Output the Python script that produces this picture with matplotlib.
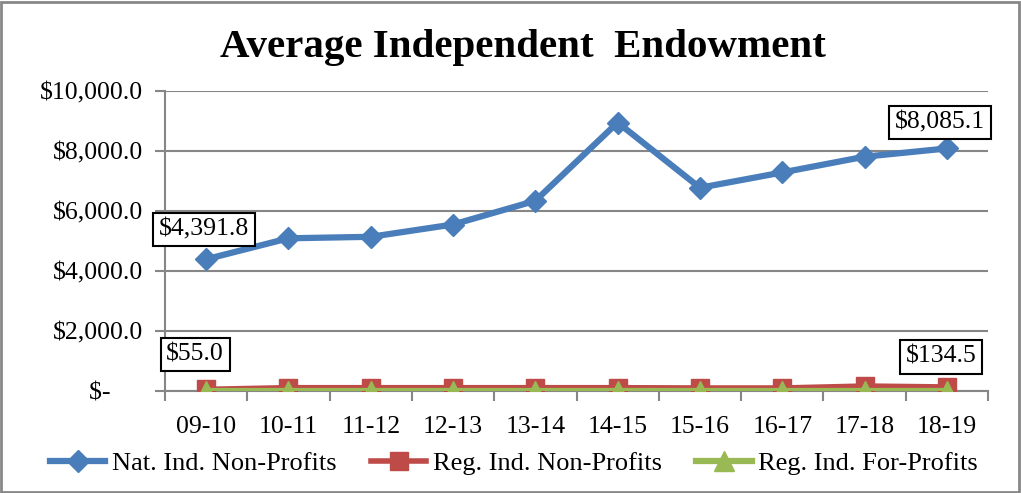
import matplotlib
matplotlib.use("Agg")
import matplotlib.pyplot as plt
from matplotlib.lines import Line2D
from matplotlib.patches import Rectangle
import matplotlib.ticker as mticker

categories = ["09-10", "10-11", "11-12", "12-13", "13-14", "14-15", "15-16", "16-17", "17-18", "18-19"]
nat_nonprofit = [4391.8, 5090, 5140, 5550, 6340, 8950, 6775, 7285, 7810, 8085.1]
reg_nonprofit = [55.0, 110, 110, 110, 110, 110, 100, 100, 165, 134.5]
reg_forprofit = [5, 5, 5, 5, 5, 5, 5, 5, 5, 5]
series_names = ["Nat. Ind. Non-Profits", "Reg. Ind. Non-Profits", "Reg. Ind. For-Profits"]
yticks = [0, 2000, 4000, 6000, 8000, 10000]

plt.rcParams['font.family'] = ['Liberation Serif', 'DejaVu Serif']

W, H = 1021, 493
fig = plt.figure(figsize=(W / 100, H / 100), dpi=100)
ax = fig.add_axes([165 / W, 1 - 391 / H, (988 - 165) / W, (391 - 91) / H])

blue = "#4A7EBB"
red = "#BE4B48"
green = "#98B954"
grid_c = "#868686"

x = list(range(len(categories)))
ax.plot(x, nat_nonprofit, color=blue, lw=4.5, marker="D", ms=11, zorder=5)
ax.plot(x, reg_nonprofit, color=red, lw=4, marker="s", ms=13, zorder=5)
ax.plot(x, reg_forprofit, color=green, lw=4.5, marker="^", ms=15, zorder=6)

ax.set_xlim(-0.5, len(categories) - 0.5)
ax.set_ylim(0, 10000)
ax.set_yticks(yticks)

def fmt(v, pos):
    if v == 0:
        return "$-     "
    return "${:,.1f}".format(v)
ax.yaxis.set_major_formatter(mticker.FuncFormatter(fmt))

ax.set_xticks(x)
ax.set_xticklabels(categories)
ax.set_xticks([i - 0.5 for i in range(len(categories) + 1)], minor=True)
ax.tick_params(axis="x", which="major", length=0, pad=18, labelsize=18.5)
ax.tick_params(axis="x", which="minor", length=7, color=grid_c, width=1.5, direction="out")
ax.tick_params(axis="y", length=7, color=grid_c, width=1.5, labelsize=18.5, pad=9)

ax.yaxis.grid(True, color=grid_c, lw=1.5)
ax.set_axisbelow(True)
for s in ["top", "right"]:
    ax.spines[s].set_visible(False)
for s in ["left", "bottom"]:
    ax.spines[s].set_color(grid_c)
    ax.spines[s].set_linewidth(1.5)

bbox = dict(boxstyle="square,pad=0.22", fc="white", ec="black", lw=1.5)
def label(xi, yv, text, dx, dy):
    ax.annotate(text, (xi, yv), xytext=(dx, dy), textcoords="offset pixels",
                ha="center", va="center", fontsize=18.5, bbox=bbox, zorder=10,
                annotation_clip=False)

label(0, nat_nonprofit[0], "$4,391.8", -2, 30)
label(9, nat_nonprofit[9], "$8,085.1", -7, 26)
label(0, reg_nonprofit[0], "$55.0", -11, 35)
label(9, reg_nonprofit[9], "$134.5", -6, 30)

fig.text(522.5 / W, 1 - 47 / H, "Average Independent  Endowment", ha="center", va="center",
         fontsize=29.5, fontweight="bold")

handles = [
    Line2D([], [], color=blue, lw=4.5, marker="D", ms=11),
    Line2D([], [], color=red, lw=4, marker="s", ms=13),
    Line2D([], [], color=green, lw=4.5, marker="^", ms=15),
]
fig.legend(handles, series_names, loc="center", bbox_to_anchor=(514 / W, 1 - 463 / H),
           ncol=3, frameon=False, fontsize=19, handlelength=2.1, handletextpad=0.25,
           columnspacing=1.3, borderpad=0, borderaxespad=0)

fig.patches.append(Rectangle((1 / W, 1 / H), 1 - 3 / W, 1 - 3 / H, transform=fig.transFigure,
                             fill=False, ec="#878787", lw=2))

fig.savefig("out.png", dpi=100)
